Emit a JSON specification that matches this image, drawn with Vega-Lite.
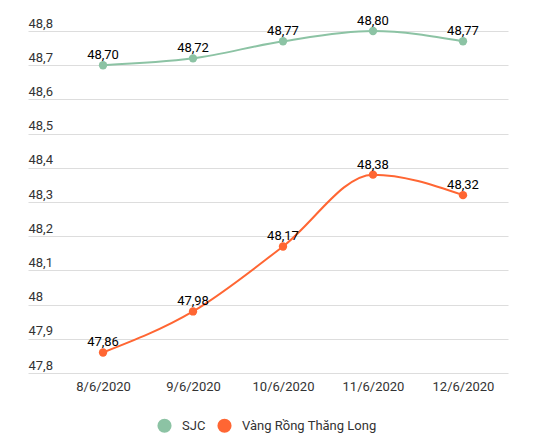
{
  "$schema": "https://vega.github.io/schema/vega-lite/v6.json",
  "autosize": "none",
  "width": 480,
  "height": 342,
  "padding": {"left": 28, "top": 31, "right": 38, "bottom": 70},
  "background": "white",
  "config": {
    "view": {"stroke": null},
    "font": "Roboto",
    "locale": {"number": {"decimal": ",", "thousands": ".", "grouping": [3], "currency": ["", ""]}}
  },
  "data": {
    "values": [
      {"date": "8/6/2020", "series": "SJC", "value": 48.70},
      {"date": "9/6/2020", "series": "SJC", "value": 48.72},
      {"date": "10/6/2020", "series": "SJC", "value": 48.77},
      {"date": "11/6/2020", "series": "SJC", "value": 48.80},
      {"date": "12/6/2020", "series": "SJC", "value": 48.77},
      {"date": "8/6/2020", "series": "Vàng Rồng Thăng Long", "value": 47.86},
      {"date": "9/6/2020", "series": "Vàng Rồng Thăng Long", "value": 47.98},
      {"date": "10/6/2020", "series": "Vàng Rồng Thăng Long", "value": 48.17},
      {"date": "11/6/2020", "series": "Vàng Rồng Thăng Long", "value": 48.38},
      {"date": "12/6/2020", "series": "Vàng Rồng Thăng Long", "value": 48.32}
    ]
  },
  "encoding": {
    "x": {
      "field": "date",
      "type": "ordinal",
      "sort": ["8/6/2020", "9/6/2020", "10/6/2020", "11/6/2020", "12/6/2020"],
      "scale": {"type": "point", "padding": 0.667, "align": 0.625},
      "axis": {
        "title": null, "domain": false, "ticks": false, "labelAngle": 0,
        "labelPadding": 7, "labelFontSize": 13, "labelColor": "#333333", "grid": false
      }
    },
    "y": {
      "field": "value",
      "type": "quantitative",
      "scale": {"domain": [47.8, 48.8], "nice": false, "zero": false},
      "axis": {
        "title": null, "domain": false, "ticks": false, "tickSize": 0,
        "values": [47.8, 47.9, 48.0, 48.1, 48.2, 48.3, 48.4, 48.5, 48.6, 48.7, 48.8],
        "format": ".1~f",
        "labelAlign": "left", "labelBaseline": "alphabetic", "labelPadding": 0,
        "labelOffset": -4, "labelFontSize": 13, "labelColor": "#333333",
        "gridColor": "#dddddd", "gridWidth": 1
      }
    },
    "color": {
      "field": "series",
      "type": "nominal",
      "scale": {"domain": ["SJC", "Vàng Rồng Thăng Long"], "range": ["#8cc3a4", "#ff6633"]},
      "legend": {
        "title": null, "orient": "none", "direction": "horizontal",
        "legendX": 129, "legendY": 387,
        "symbolType": "circle", "symbolSize": 200, "symbolStrokeWidth": 0, "symbolOpacity": 1,
        "labelFontSize": 13, "labelColor": "#333333", "labelOffset": 10, "columnPadding": 11
      }
    }
  },
  "layer": [
    {"mark": {"type": "line", "interpolate": "monotone", "strokeWidth": 2}},
    {"mark": {"type": "point", "filled": true, "size": 70, "opacity": 1}},
    {
      "mark": {"type": "text", "fontSize": 13, "color": "black", "baseline": "alphabetic", "dy": -6},
      "encoding": {
        "text": {"field": "value", "type": "quantitative", "format": ".2f"},
        "color": {"value": "black"}
      }
    }
  ]
}
